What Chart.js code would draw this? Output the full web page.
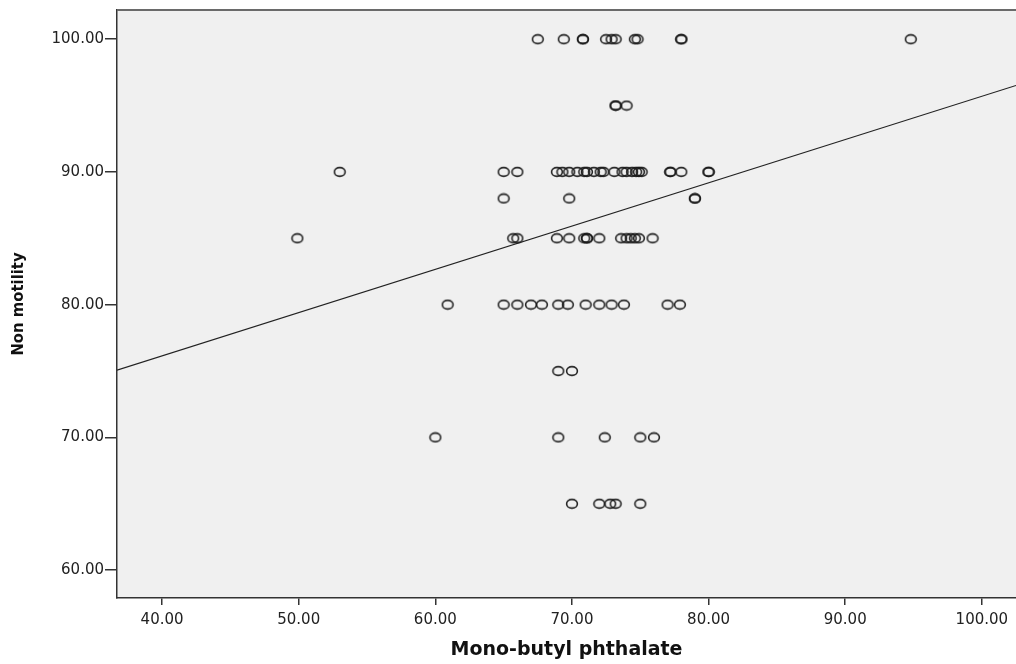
<!DOCTYPE html>
<html>
<head>
<meta charset="utf-8">
<script src="https://cdn.jsdelivr.net/npm/chart.js@4.4.0/dist/chart.umd.min.js"></script>
<style>
  html, body { margin: 0; padding: 0; background: #fff; overflow: hidden; }
  canvas { display: block; }
</style>
</head>
<body>
<canvas id="scatter" width="1016" height="664"></canvas>
<script>
// Mono-butyl phthalate (x) vs Non motility (y)
var mbp = [
  67.5, 69.4, 70.8, 70.8, 72.5, 72.9, 73.2, 74.6, 74.8, 78.0, 78.0, 94.8,
  73.2, 73.2, 74.0,
  53.0, 65.0, 66.0, 68.9, 69.3, 69.8, 70.4, 70.9, 71.1, 71.6, 72.1, 72.3, 73.1, 73.7, 74.0, 74.4, 74.7, 74.9, 75.1, 77.2, 77.2, 78.0, 80.0, 80.0,
  65.0, 69.8, 79.0, 79.0,
  49.9, 65.7, 66.0, 68.9, 69.8, 70.9, 71.1, 71.1, 72.0, 73.6, 74.0, 74.3, 74.6, 74.9, 75.9,
  60.9, 65.0, 66.0, 67.0, 67.8, 69.0, 69.7, 71.0, 72.0, 72.9, 73.8, 77.0, 77.9,
  69.0, 70.0,
  60.0, 69.0, 72.4, 75.0, 76.0,
  70.0, 72.0, 72.8, 73.2, 75.0
];
var nonMotility = [
  100, 100, 100, 100, 100, 100, 100, 100, 100, 100, 100, 100,
  95, 95, 95,
  90, 90, 90, 90, 90, 90, 90, 90, 90, 90, 90, 90, 90, 90, 90, 90, 90, 90, 90, 90, 90, 90, 90, 90,
  88, 88, 88, 88,
  85, 85, 85, 85, 85, 85, 85, 85, 85, 85, 85, 85, 85, 85, 85,
  80, 80, 80, 80, 80, 80, 80, 80, 80, 80, 80, 80, 80,
  75, 75,
  70, 70, 70, 70, 70,
  65, 65, 65, 65, 65
];
var xTicks = [40, 50, 60, 70, 80, 90, 100];
var yTicks = [60, 70, 80, 90, 100];
var xRange = [36.7, 102.5];
var yRange = [57.9, 102.2];
// fit line
var fitIntercept = 63.1;
var fitSlope = 0.326;

var points = mbp.map(function(x, i) { return { x: x, y: nonMotility[i] }; });
var fitLine = xRange.map(function(x) { return { x: x, y: fitIntercept + fitSlope * x }; });

// open ring marker, a bit wider than tall like the original
var ring = document.createElement('canvas');
ring.width = 14; ring.height = 12;
(function() {
  var c = ring.getContext('2d');
  c.strokeStyle = 'rgba(25,25,25,0.95)';
  c.lineWidth = 1.6;
  c.beginPath();
  c.ellipse(7, 6, 5.4, 4.4, 0, 0, Math.PI * 2);
  c.stroke();
})();

var plotBox = {
  id: 'plotBox',
  beforeDraw: function(chart) {
    var a = chart.chartArea, ctx = chart.ctx;
    ctx.save();
    ctx.fillStyle = '#f0f0f0';
    ctx.fillRect(a.left, a.top, a.right - a.left, a.bottom - a.top);
    ctx.restore();
  },
  afterDraw: function(chart) {
    var a = chart.chartArea, ctx = chart.ctx;
    ctx.save();
    ctx.strokeStyle = '#6a6a6a';
    ctx.lineWidth = 2;
    ctx.beginPath();
    ctx.moveTo(a.left, a.top);
    ctx.lineTo(a.right, a.top);
    ctx.stroke();
    ctx.restore();
  }
};

var tickFont = { family: 'DejaVu Sans, Liberation Sans, sans-serif', size: 15 };

new Chart(document.getElementById('scatter'), {
  type: 'scatter',
  data: {
    datasets: [
      {
        data: points,
        pointStyle: ring,
        pointRadius: 6,
        pointHoverRadius: 6
      },
      {
        type: 'line',
        data: fitLine,
        borderColor: '#222',
        borderWidth: 1.2,
        pointRadius: 0,
        fill: false
      }
    ]
  },
  options: {
    responsive: false,
    devicePixelRatio: 1,
    animation: false,
    layout: { autoPadding: false, padding: { top: 10, right: 0, left: 0, bottom: 0 } },
    plugins: { legend: { display: false }, tooltip: { enabled: false } },
    scales: {
      x: {
        type: 'linear',
        min: xRange[0],
        max: xRange[1],
        afterBuildTicks: function(s) { s.ticks = xTicks.map(function(v) { return { value: v }; }); },
        afterFit: function(s) { s.height = 66; s.paddingLeft = 0; s.paddingRight = 0; },
        grid: { display: true, drawOnChartArea: false, drawTicks: true, tickLength: 7, color: '#333', lineWidth: 1.5 },
        border: { display: true, color: '#333', width: 1.5 },
        ticks: {
          color: '#222', font: tickFont, padding: 6, maxRotation: 0, autoSkip: false,
          callback: function(v) { return v.toFixed(2); }
        },
        title: {
          display: true, text: 'Mono-butyl phthalate', color: '#111',
          font: { family: 'DejaVu Sans, sans-serif', size: 19, weight: 'bold' },
          padding: { top: 0, bottom: 3 }
        }
      },
      y: {
        type: 'linear',
        min: yRange[0],
        max: yRange[1],
        afterBuildTicks: function(s) { s.ticks = yTicks.map(function(v) { return { value: v }; }); },
        afterFit: function(s) { s.width = 117; s.paddingTop = 0; s.paddingBottom = 0; },
        grid: { display: true, drawOnChartArea: false, drawTicks: true, tickLength: 12, color: '#333', lineWidth: 1.5 },
        border: { display: true, color: '#333', width: 1.5 },
        ticks: {
          color: '#222', font: tickFont, padding: 1, autoSkip: false,
          callback: function(v) { return v.toFixed(2); }
        },
        title: {
          display: true, text: 'Non motility', color: '#111',
          font: { family: 'DejaVu Sans Condensed, DejaVu Sans, sans-serif', size: 16.5, weight: 'bold' },
          padding: { top: 9, bottom: 0 }
        }
      }
    }
  },
  plugins: [plotBox]
});
</script>
</body>
</html>
